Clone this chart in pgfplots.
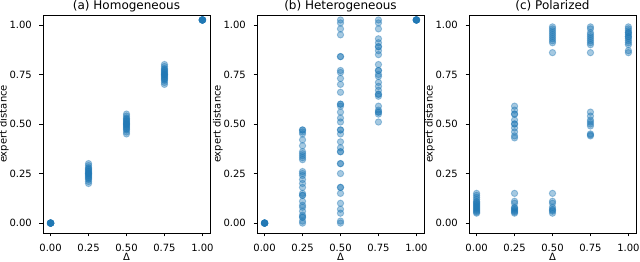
\documentclass[border=0pt]{standalone}
\usepackage{pgfplots}
\pgfplotsset{compat=1.18}
\usepackage{fontspec}
\setmainfont{DejaVu Sans}
\definecolor{tabblue}{HTML}{1F77B4}

\pgfplotsset{
  panel/.style={
    scale only axis, width=167pt, height=218pt,
    anchor=south west,
    xmin=-0.05, xmax=1.05, ymin=-0.05, ymax=1.05,
    xtick={0,0.25,0.5,0.75,1}, xticklabels={0.00,0.25,0.50,0.75,1.00},
    ytick={0,0.25,0.5,0.75,1}, yticklabels={0.00,0.25,0.50,0.75,1.00},
    xtick pos=bottom, ytick pos=left,
    tick align=outside, major tick length=3.5pt,
    tick style={black, line width=0.8pt},
    axis line style={black, line width=0.8pt},
    /pgf/number format/assume math mode=true,
    tick label style={font=\fontsize{10}{12}\selectfont, text=black},
    xticklabel style={anchor=base, inner sep=0pt, yshift=-15pt},
    yticklabel style={anchor=east, inner sep=0pt, xshift=-7.5pt},
    xlabel={Δ}, ylabel={expert distance},
    label style={font=\fontsize{10}{12}\selectfont, inner sep=0pt},
    xlabel style={at={(axis description cs:0.5,0)}, anchor=base, yshift=-27.5pt},
    ylabel style={at={(axis description cs:-0.218,0.5)}, anchor=base},
    title style={font=\fontsize{12}{14}\selectfont, inner sep=0pt, at={(axis description cs:0.5,1)}, anchor=base, yshift=-1pt},
  },
  dots/.style={only marks, mark=*, mark size=3.2pt, color=tabblue,
    mark options={fill opacity=0.4, draw opacity=0.4, line width=0.9pt}},
}

\pgfplotstableread{
x y
0 0
0 0
0 0
0 0
0 0
0 0
0 0
0 0
0 0
0 0
0.25 0.20
0.25 0.21
0.25 0.22
0.25 0.225
0.25 0.23
0.25 0.235
0.25 0.24
0.25 0.245
0.25 0.25
0.25 0.25
0.25 0.255
0.25 0.26
0.25 0.265
0.25 0.27
0.25 0.275
0.25 0.28
0.25 0.29
0.25 0.30
0.5 0.45
0.5 0.46
0.5 0.47
0.5 0.475
0.5 0.48
0.5 0.485
0.5 0.49
0.5 0.495
0.5 0.50
0.5 0.50
0.5 0.505
0.5 0.51
0.5 0.515
0.5 0.52
0.5 0.525
0.5 0.53
0.5 0.54
0.5 0.55
0.75 0.70
0.75 0.71
0.75 0.72
0.75 0.725
0.75 0.73
0.75 0.735
0.75 0.74
0.75 0.745
0.75 0.75
0.75 0.75
0.75 0.755
0.75 0.76
0.75 0.765
0.75 0.77
0.75 0.775
0.75 0.78
0.75 0.79
0.75 0.80
1 1.025
1 1.025
1 1.025
1 1.025
1 1.025
1 1.025
1 1.025
1 1.025
1 1.025
1 1.025
}\tabA

\pgfplotstableread{
x y
0 0
0 0
0 0
0 0
0 0
0 0
0 0
0 0
0.25 0.47
0.25 0.47
0.25 0.46
0.25 0.45
0.25 0.42
0.25 0.39
0.25 0.36
0.25 0.35
0.25 0.34
0.25 0.33
0.25 0.32
0.25 0.26
0.25 0.25
0.25 0.24
0.25 0.22
0.25 0.20
0.25 0.18
0.25 0.15
0.25 0.14
0.25 0.14
0.25 0.11
0.25 0.09
0.25 0.08
0.25 0.06
0.25 0.04
0.25 0.03
0.25 0.03
0.25 0.01
0.25 0.00
0.5 1.025
0.5 1.01
0.5 0.98
0.5 0.95
0.5 0.84
0.5 0.84
0.5 0.77
0.5 0.76
0.5 0.73
0.5 0.70
0.5 0.66
0.5 0.60
0.5 0.60
0.5 0.59
0.5 0.56
0.5 0.53
0.5 0.51
0.5 0.47
0.5 0.47
0.5 0.45
0.5 0.41
0.5 0.38
0.5 0.36
0.5 0.36
0.5 0.30
0.5 0.30
0.5 0.25
0.5 0.18
0.5 0.18
0.5 0.15
0.5 0.10
0.5 0.07
0.5 0.05
0.5 0.01
0.5 0.00
0.75 1.025
0.75 1.01
0.75 0.98
0.75 0.93
0.75 0.91
0.75 0.89
0.75 0.89
0.75 0.87
0.75 0.85
0.75 0.80
0.75 0.77
0.75 0.77
0.75 0.75
0.75 0.74
0.75 0.71
0.75 0.69
0.75 0.67
0.75 0.65
0.75 0.65
0.75 0.64
0.75 0.59
0.75 0.57
0.75 0.56
0.75 0.56
0.75 0.55
0.75 0.51
1 1.025
1 1.025
1 1.025
1 1.025
1 1.025
1 1.025
1 1.025
1 1.025
}\tabB

\pgfplotstableread{
x y
0 0.05
0 0.055
0 0.06
0 0.065
0 0.07
0 0.075
0 0.08
0 0.085
0 0.09
0 0.095
0 0.10
0 0.105
0 0.11
0 0.12
0 0.13
0 0.14
0 0.15
0.25 0.05
0.25 0.055
0.25 0.06
0.25 0.065
0.25 0.07
0.25 0.075
0.25 0.08
0.25 0.10
0.25 0.11
0.25 0.15
0.25 0.43
0.25 0.44
0.25 0.46
0.25 0.48
0.25 0.50
0.25 0.50
0.25 0.52
0.25 0.55
0.25 0.55
0.25 0.57
0.25 0.59
0.5 0.05
0.5 0.06
0.5 0.065
0.5 0.07
0.5 0.08
0.5 0.10
0.5 0.11
0.5 0.15
0.5 0.86
0.5 0.91
0.5 0.92
0.5 0.93
0.5 0.94
0.5 0.95
0.5 0.96
0.5 0.97
0.5 0.98
0.5 0.99
0.75 0.44
0.75 0.445
0.75 0.45
0.75 0.49
0.75 0.50
0.75 0.51
0.75 0.52
0.75 0.54
0.75 0.56
0.75 0.86
0.75 0.90
0.75 0.91
0.75 0.92
0.75 0.93
0.75 0.94
0.75 0.95
0.75 0.96
0.75 0.98
0.75 0.99
1 0.86
1 0.87
1 0.90
1 0.91
1 0.92
1 0.93
1 0.94
1 0.94
1 0.95
1 0.96
1 0.96
1 0.97
1 0.98
1 0.99
}\tabC

\begin{document}
\begin{tikzpicture}
\useasboundingbox (0,0) rectangle (640pt,262pt);
\begin{axis}[panel, at={(43pt,29pt)}, title={(a) Homogeneous}]
\addplot[dots] table[x=x,y=y] {\tabA};
\end{axis}
\begin{axis}[panel, at={(257pt,29pt)}, title={(b) Heterogeneous}]
\addplot[dots] table[x=x,y=y] {\tabB};
\end{axis}
\begin{axis}[panel, at={(469pt,29pt)}, title={(c) Polarized}]
\addplot[dots] table[x=x,y=y] {\tabC};
\end{axis}
\end{tikzpicture}
\end{document}
